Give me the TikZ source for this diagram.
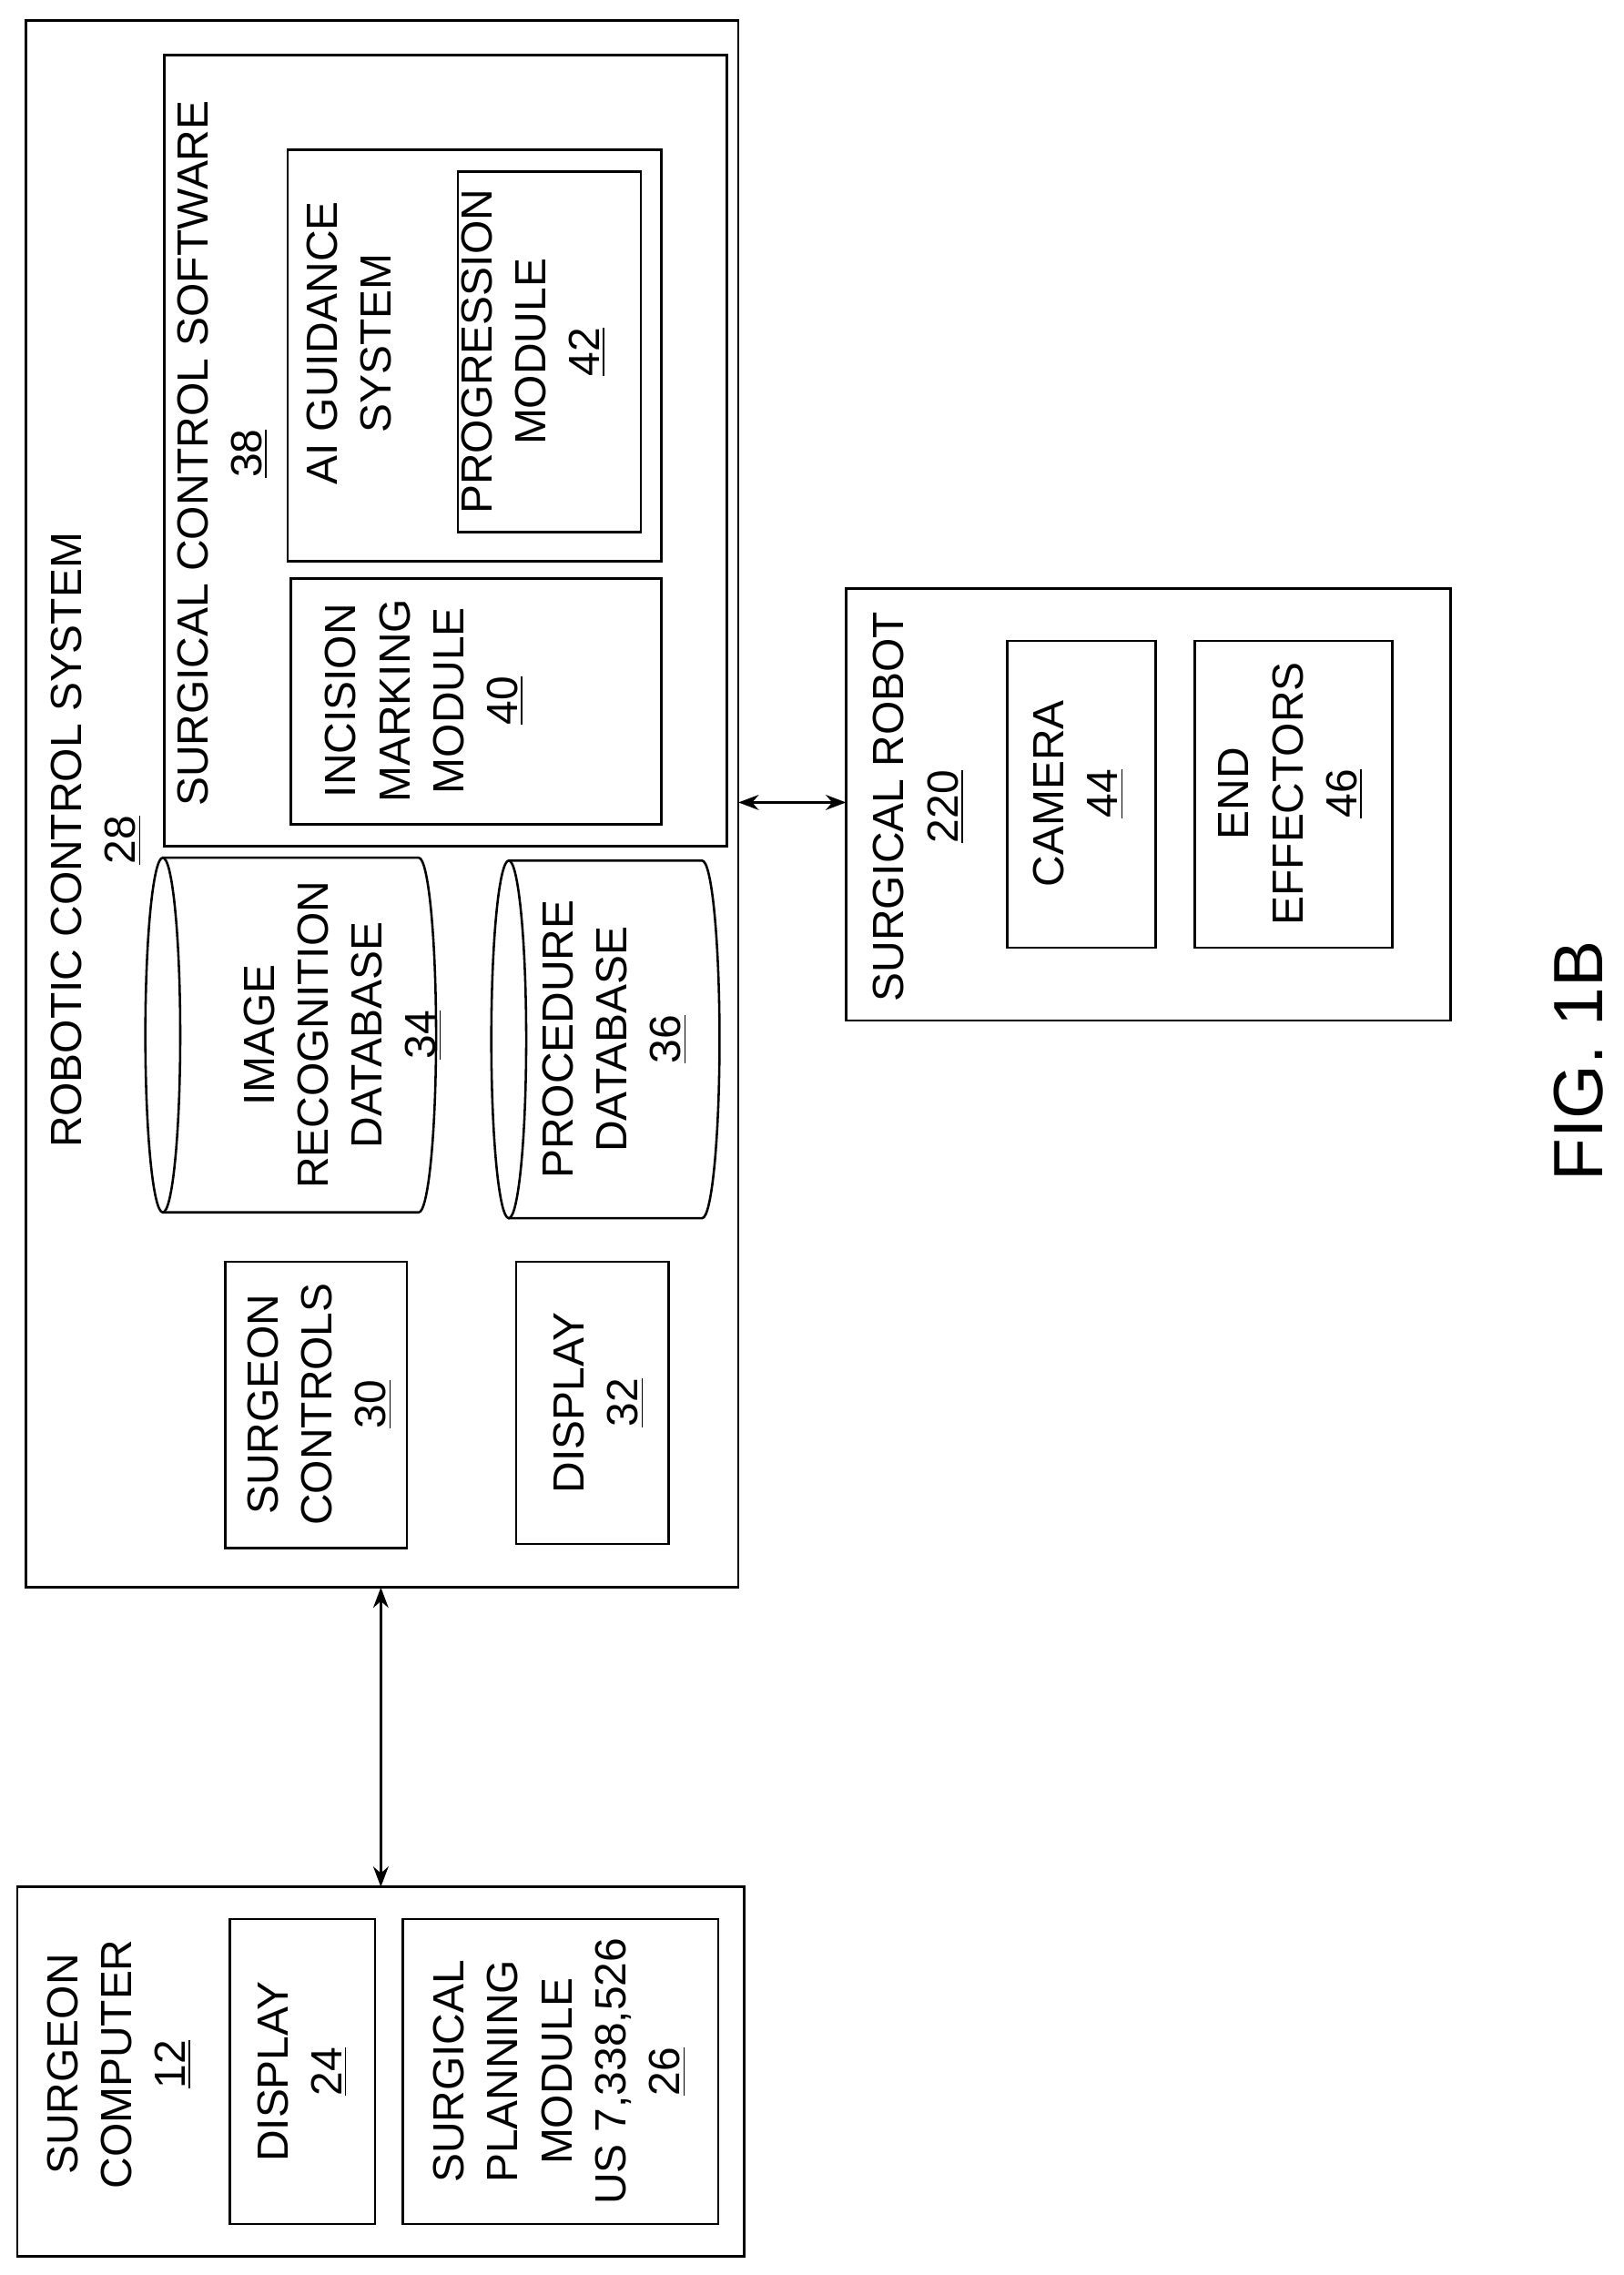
\documentclass[tikz,border=0pt]{standalone}
\usepackage{fontspec}
\setmainfont{Liberation Sans}
\usetikzlibrary{fit,arrows.meta}

\tikzset{
  box/.style={draw,thick,inner sep=0pt},
  lbl/.style={rotate=90,align=center,font=\fontsize{15}{18.5}\selectfont},
  link/.style={thick,{Stealth[length=7pt]}-{Stealth[length=7pt]}}
}
\newcommand{\ul}[1]{\underline{#1}}

\begin{document}
\begin{tikzpicture}[x=0.5pt,y=-0.5pt]
\useasboundingbox (0,0) rectangle (1117,1565);

% robotic control system
\node[box,fit={(18,14) (508,1092)}] (rcs) {};
\node[lbl] (rcsl) at (66,578) {ROBOTIC CONTROL SYSTEM\\\ul{28}};
\node[box,fit={(113,38) (500,582)}] (scs) {};
\node[lbl] (scsl) at (153,312) {SURGICAL CONTROL SOFTWARE\\\ul{38}};
\node[box,fit={(198,103) (455,386)}] (ai) {};
\node[lbl] (ail) at (240,236) {AI GUIDANCE\\SYSTEM};
\node[box,fit={(315,118) (441,366)}] (prog) {};
\node[lbl] (progl) at (367,242) {PROGRESSION\\MODULE\\\ul{42}};
\node[box,fit={(200,398) (455,567)}] (inc) {};
\node[lbl] (incl) at (292,482) {INCISION\\MARKING\\MODULE\\\ul{40}};

% databases
\draw[thick] (112,712) ellipse[x radius=12,y radius=122];
\draw[thick] (112,590) -- (288,590) arc[start angle=-90,end angle=90,x radius=12,y radius=122] -- (112,834);
\node[lbl] (imgdb) at (236,712) {IMAGE\\RECOGNITION\\DATABASE\\\ul{34}};
\draw[thick] (350,715) ellipse[x radius=12,y radius=123];
\draw[thick] (350,592) -- (483,592) arc[start angle=-90,end angle=90,x radius=12,y radius=123] -- (350,838);
\node[lbl] (procdb) at (423,715) {PROCEDURE\\DATABASE\\\ul{36}};

\node[box,fit={(155,868) (280,1065)}] (sc) {};
\node[lbl] (scl) at (220,966) {SURGEON\\CONTROLS\\\ul{30}};
\node[box,fit={(355,868) (460,1062)}] (disp) {};
\node[lbl] (displ) at (412,965) {DISPLAY\\\ul{32}};

% surgical robot
\node[box,fit={(582,405) (998,702)}] (robot) {};
\node[lbl] (robotl) at (632,555) {SURGICAL ROBOT\\\ul{220}};
\node[box,fit={(693,441) (795,652)}] (cam) {};
\node[lbl] (caml) at (742,546) {CAMERA\\\ul{44}};
\node[box,fit={(822,441) (958,652)}] (eff) {};
\node[lbl] (effl) at (888,546) {END\\EFFECTORS\\\ul{46}};

% surgeon computer
\node[box,fit={(12,1298) (512,1552)}] (comp) {};
\node[lbl] (compl) at (82,1420) {SURGEON\\COMPUTER\\\ul{12}};
\node[box,fit={(158,1320) (258,1530)}] (disp2) {};
\node[lbl] (disp2l) at (208,1425) {DISPLAY\\\ul{24}};
\node[box,fit={(277,1320) (494,1530)}] (plan) {};
\node[lbl] (planl) at (385,1425) {SURGICAL\\PLANNING\\MODULE\\US 7,338,526\\\ul{26}};

% links
\coordinate (a1) at (508,552);
\coordinate (a2) at (582,552);
\draw[link] (a1) -- (a2);
\coordinate (b1) at (262,1092);
\coordinate (b2) at (262,1298);
\draw[link] (b1) -- (b2);

\node[rotate=90,font=\fontsize{24}{28}\selectfont] (fig) at (1086,730) {FIG. 1B};
\end{tikzpicture}
\end{document}
